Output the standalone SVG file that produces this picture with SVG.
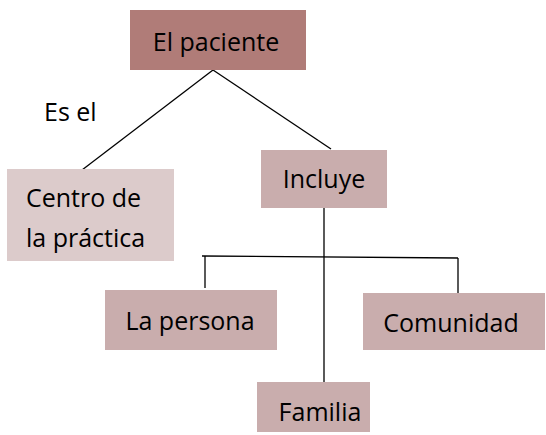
<svg xmlns="http://www.w3.org/2000/svg" width="546" height="435" viewBox="0 0 546 435">
<style>
.t{font-family:"Open Sans","Liberation Sans",sans-serif;font-size:25px;fill:#000}
.c{stroke:#000;stroke-width:1.3;fill:none}
.n{fill:#c9adad}
</style>
<rect width="546" height="435" fill="#fff"/>
<g id="connectors">
<line class="c" x1="213" y1="70" x2="82" y2="170"/>
<line class="c" x1="213" y1="70" x2="331" y2="149"/>
<line class="c" x1="324" y1="208" x2="324" y2="382"/>
<line class="c" x1="202" y1="256" x2="458" y2="258"/>
<line class="c" x1="205" y1="256" x2="205" y2="288"/>
<line class="c" x1="458" y1="258" x2="458" y2="293"/>
</g>
<g id="el-paciente">
<rect x="130" y="10" width="176" height="60" fill="#b07c78"/>
<text class="t" x="216" y="51" text-anchor="middle">El paciente</text>
</g>
<text id="es-el" class="t" x="44" y="121">Es el</text>
<g id="centro">
<rect x="7" y="169" width="167" height="92" fill="#dccbcb"/>
<text class="t" x="26" y="207">Centro de</text>
<text class="t" x="26" y="247">la práctica</text>
</g>
<g id="incluye">
<rect class="n" x="261" y="150" width="126" height="58"/>
<text class="t" x="324" y="188" text-anchor="middle">Incluye</text>
</g>
<g id="la-persona">
<rect class="n" x="105" y="290" width="172" height="60"/>
<text class="t" x="190" y="330" text-anchor="middle">La persona</text>
</g>
<g id="comunidad">
<rect class="n" x="363" y="293" width="182" height="57"/>
<text class="t" x="451" y="332" text-anchor="middle">Comunidad</text>
</g>
<g id="familia">
<rect class="n" x="257" y="382" width="113" height="50"/>
<text class="t" x="320" y="421" text-anchor="middle">Familia</text>
</g>
</svg>
